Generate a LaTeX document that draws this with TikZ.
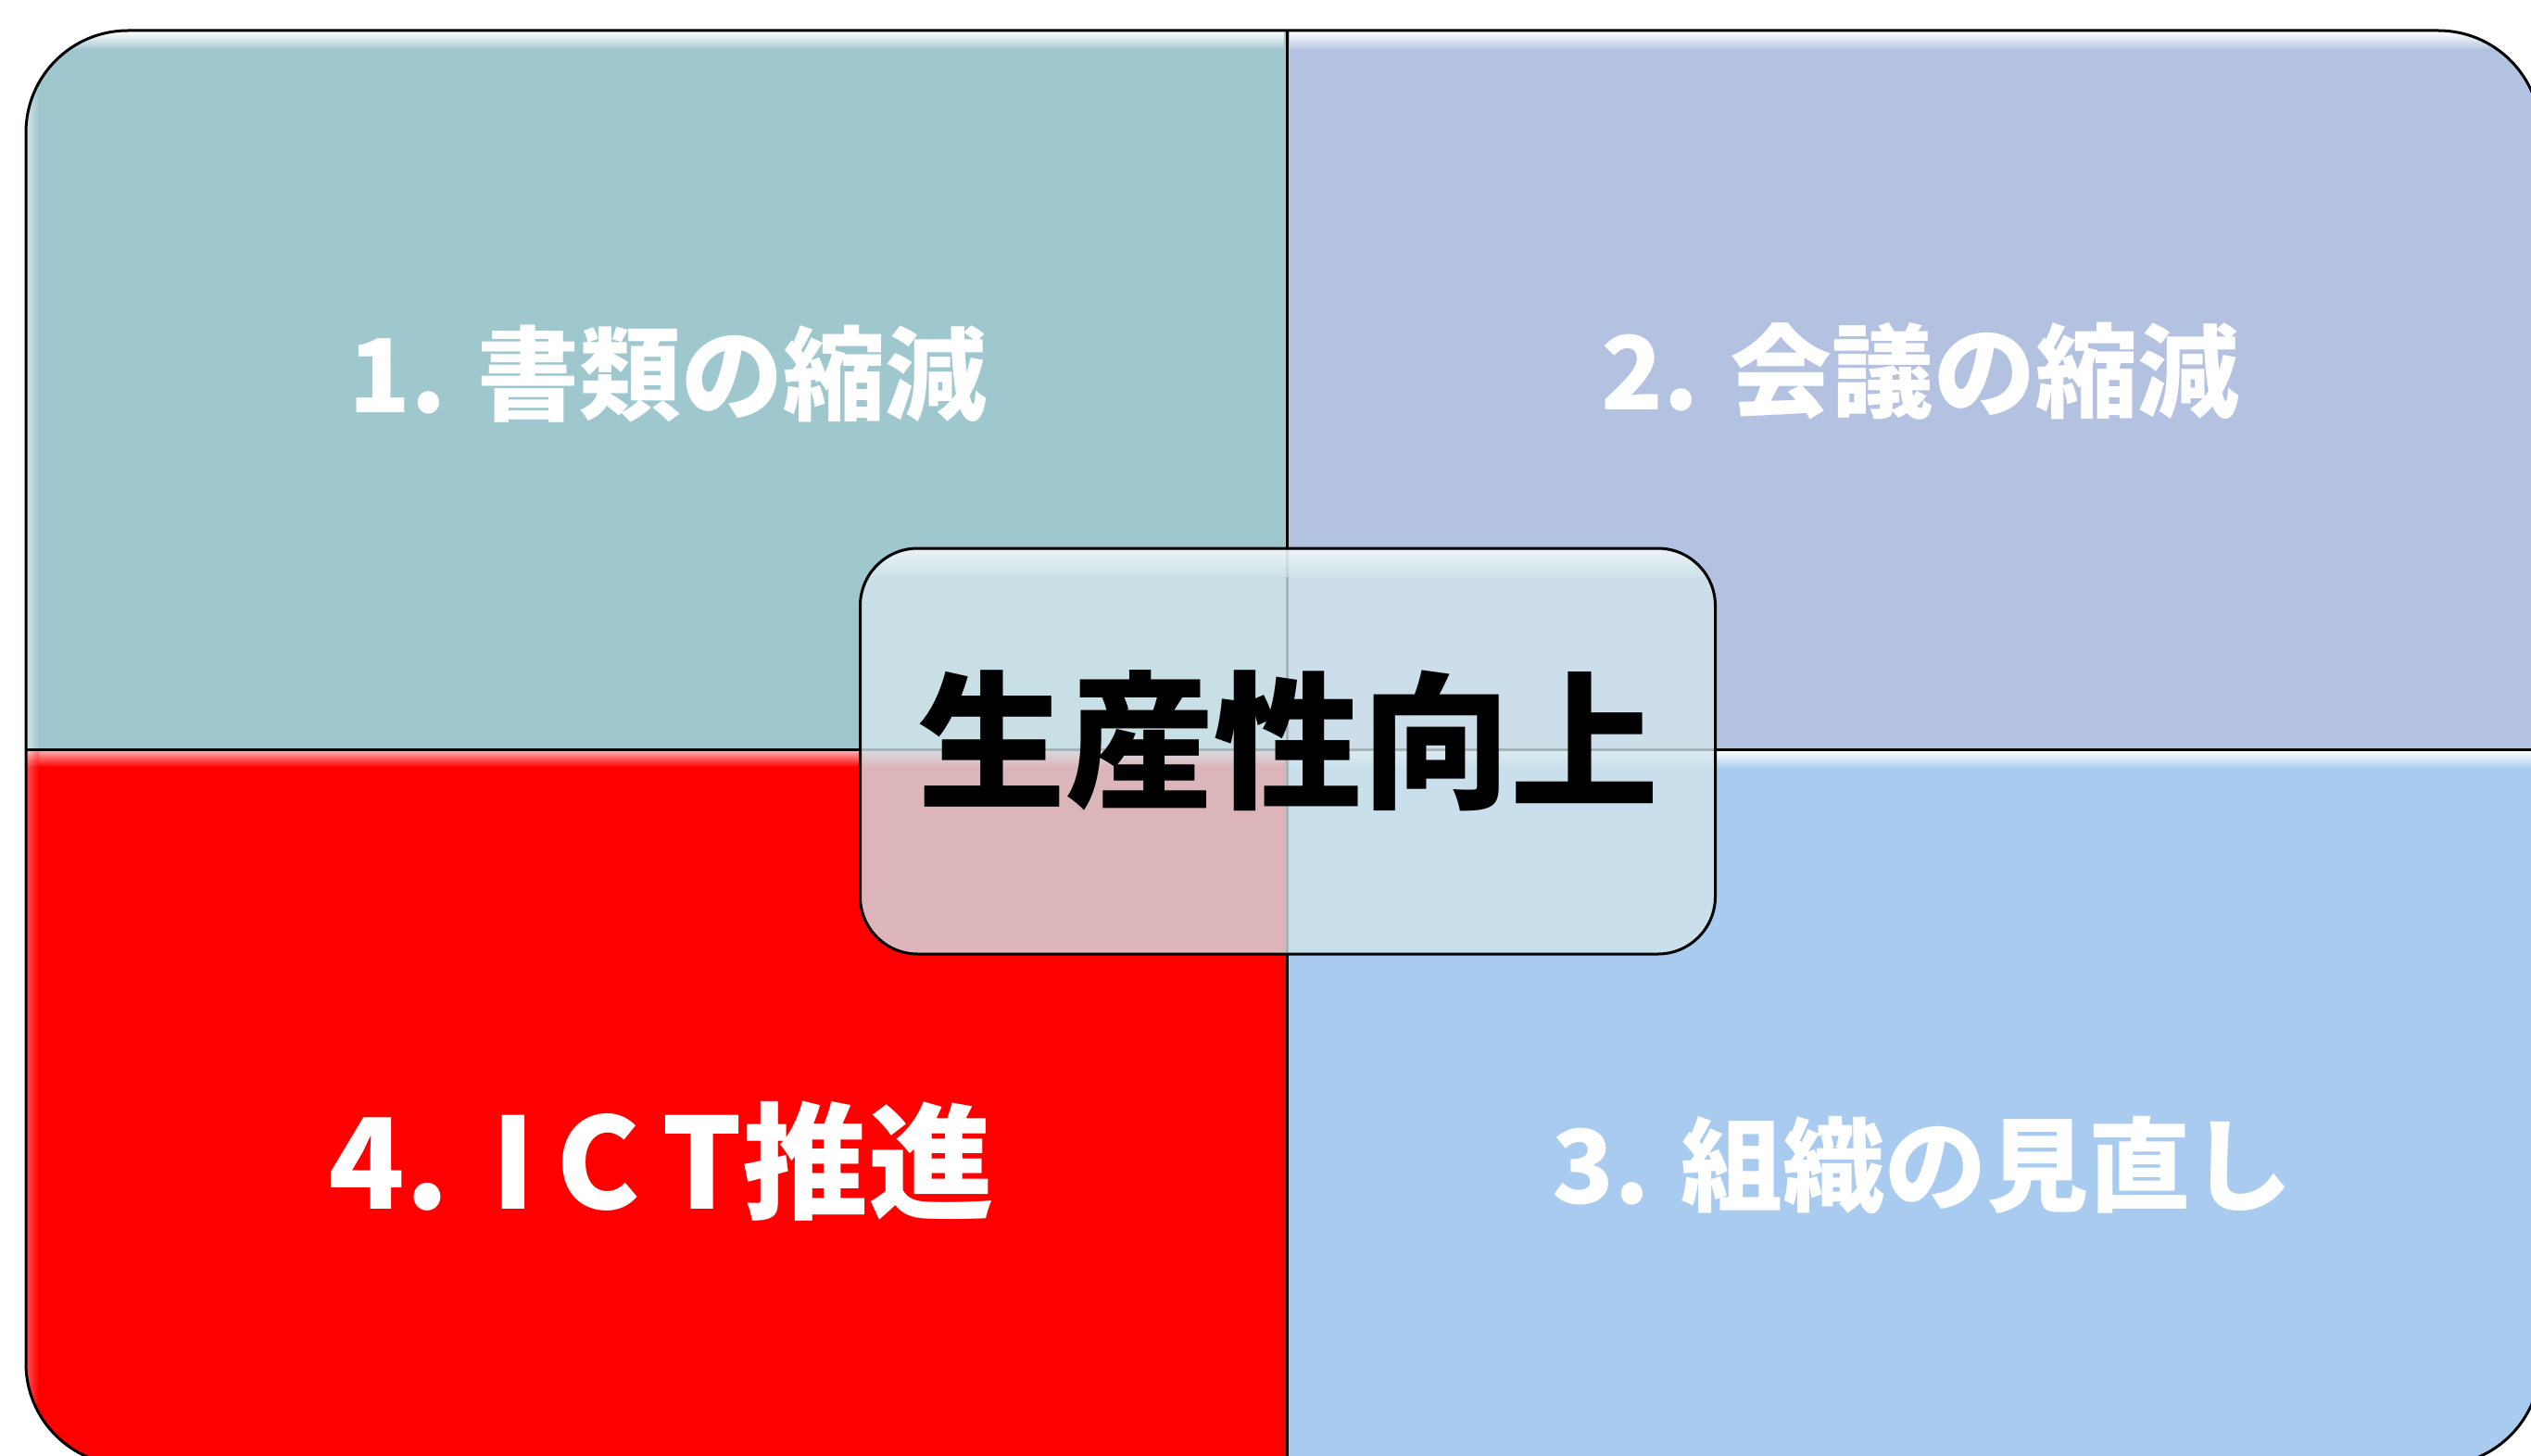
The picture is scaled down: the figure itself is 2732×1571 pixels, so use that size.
\documentclass[tikz,border=0pt]{standalone}
\usepackage{fontspec}
\newfontfamily\jp{Noto Sans CJK JP}
\definecolor{tlcol}{RGB}{159,199,206}
\definecolor{trcol}{RGB}{180,194,225}
\definecolor{blcol}{RGB}{255,0,0}
\definecolor{brcol}{RGB}{168,203,239}
\definecolor{corefill}{RGB}{210,230,236}
\tikzset{
  qlabel/.style={text=white, font=\jp\bfseries\fontsize{110}{120}\selectfont, inner sep=0pt, anchor=center},
  qlabelbig/.style={text=white, font=\jp\bfseries\fontsize{136}{150}\selectfont, inner sep=0pt, anchor=center},
  corebox/.style={draw=black, line width=3pt, rounded corners=62pt, fill=corefill, fill opacity=0.79, minimum width=923pt, minimum height=438pt, inner sep=0pt},
  coretext/.style={text=black, font=\jp\bfseries\fontsize{160}{170}\selectfont, inner sep=0pt},
  frame/.style={draw=black, line width=3pt}
}
\begin{document}
\begin{tikzpicture}[x=1pt,y=-1pt,line join=round]
\useasboundingbox (0,0) rectangle (2732,1571);
\fill[white] (0,0) rectangle (2732,1571);
\begin{scope}
  \clip[rounded corners=110pt] (28,33) rectangle (2742,1582);
  \fill[tlcol] (28,33) rectangle (1389,809);
  \fill[trcol] (1389,33) rectangle (2742,809);
  \fill[blcol] (28,809) rectangle (1389,1582);
  \fill[brcol] (1389,809) rectangle (2742,1582);
  % bevel highlights
  \shade[top color=white, bottom color=tlcol] (28,34) rectangle (1386,54);
  \shade[top color=white, bottom color=trcol] (1392,34) rectangle (2742,54);
  \shade[top color=blcol!30!white, bottom color=blcol] (28,810) rectangle (1386,828);
  \shade[top color=white, bottom color=brcol] (1392,810) rectangle (2742,830);
  \shade[left color=white, right color=tlcol, opacity=0.5] (29,33) rectangle (42,809);
  \shade[left color=white, right color=blcol, opacity=0.3] (29,809) rectangle (42,1582);
\end{scope}
\draw[frame, rounded corners=110pt] (28,33) rectangle (2742,1582);
\draw[frame] (1389,33) -- (1389,1582);
\draw[frame] (28,809) -- (2742,809);

\node[qlabel] (q1) at (721,404) {1. 書類の縮減};
\node[qlabel] (q2) at (2073,401) {2. 会議の縮減};
\node[qlabel] (q3) at (2075,1258) {3. 組織の見直し};
\node[qlabelbig] (q4) at (714,1254) {4.\,\,I\,C\,T推進};

\node[corebox] (core) at (1390,811) {};
\begin{scope}
  \clip[rounded corners=60pt] (931,594) rectangle (1849,1028);
  \shade[top color=white, bottom color=corefill, opacity=0.6] (931,594) rectangle (1849,622);
\end{scope}
\node[coretext] (coretxt) at (1390,800) {生産性向上};
\end{tikzpicture}
\end{document}
